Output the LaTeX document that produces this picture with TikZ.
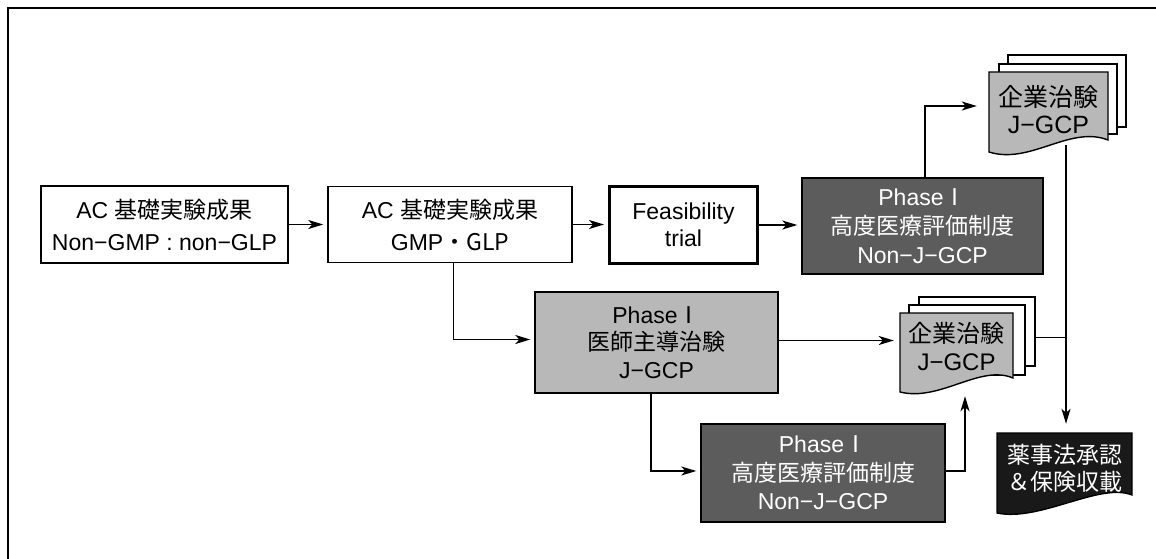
\documentclass[tikz,border=0pt]{standalone}
\usepackage{fontspec}
\setmainfont{Liberation Sans}
\newfontfamily\jp{Noto Sans CJK JP}
\usetikzlibrary{arrows.meta,calc}
\definecolor{darkfill}{gray}{0.36}
\definecolor{lightfill}{gray}{0.72}
\definecolor{blackfill}{gray}{0.1}
\newcommand\phaseone{Phase\jp{Ⅰ}}
\begin{document}
\begin{tikzpicture}[x=1pt,y=-1pt,
  every node/.style={font=\fontsize{23}{29}\selectfont, align=center, inner sep=0pt},
  plainbox/.style={draw, line width=1.5pt, fill=white},
  feasbox/.style={draw, line width=3pt, fill=white},
  darkbox/.style={draw, line width=1.4pt, fill=darkfill, text=white},
  lightbox/.style={draw, line width=1.4pt, fill=lightfill},
  docpage/.style={draw, line width=1.3pt, fill=white},
  docfront/.style={draw, line width=1.4pt, fill=lightfill},
  docblack/.style={draw, line width=1.4pt, fill=blackfill},
  conn/.style={line width=1.5pt, -{Stealth[length=15pt,width=9pt,inset=4pt]}, shorten >=4pt},
  link/.style={line width=1.5pt},
]
\useasboundingbox (0,0) rectangle (1156,559);
\draw[line width=1.5pt] (8,559) -- (8,8) -- (1156,8);

% main boxes
\node[plainbox, minimum width=247pt, minimum height=77pt, font=\fontsize{23}{32}\selectfont] (b1) at (164.5,224.5)
  {AC \jp{基礎実験成果}\\Non−GMP : non−GLP};
\node[plainbox, minimum width=244pt, minimum height=76pt, font=\fontsize{23}{32}\selectfont] (b2) at (450,224.5)
  {AC \jp{基礎実験成果}\\GMP\jp{・}GLP};
\node[feasbox, minimum width=148pt, minimum height=77pt, font=\fontsize{23}{27}\selectfont] (b3) at (683.5,225)
  {Feasibility\\trial};
\node[darkbox, minimum width=241pt, minimum height=96pt] (b4) at (922.5,226)
  {\phaseone\\\jp{高度医療評価制度}\\Non−J−GCP};
\node[lightbox, minimum width=243pt, minimum height=101pt, font=\fontsize{23}{27.5}\selectfont] (b5) at (656.5,342.5)
  {\phaseone\\\jp{医師主導治験}\\J−GCP};
\node[darkbox, minimum width=244pt, minimum height=98pt, font=\fontsize{23}{28.5}\selectfont] (b6) at (823,473)
  {\phaseone\\\jp{高度医療評価制度}\\Non−J−GCP};

% document stack 1
\node[docpage, minimum width=118pt, minimum height=72pt] (s1c) at (1067,91) {};
\node[docpage, minimum width=118pt, minimum height=70pt] (s1b) at (1058,99) {};
\filldraw[docfront] (989,72) -- (1108,72) -- (1108,140) .. controls (1070,125) and (1030,165) .. (989,152) -- cycle;
\node[minimum width=119pt, minimum height=80pt, font=\fontsize{25}{27}\selectfont] (s1) at (1048.5,110)
  {\jp{企業治験}\\J−GCP};

% document stack 2
\node[docpage, minimum width=116pt, minimum height=69pt] (s2c) at (977,331.5) {};
\node[docpage, minimum width=116pt, minimum height=70pt] (s2b) at (967,340) {};
\filldraw[docfront] (900,313) -- (1013,313) -- (1013,378) .. controls (980,364) and (940,402) .. (900,392) -- cycle;
\node[minimum width=113pt, minimum height=72pt, font=\fontsize{24}{28}\selectfont] (s2) at (956.5,346)
  {\jp{企業治験}\\J−GCP};

% final box
\filldraw[docblack] (997,433) -- (1132,433) -- (1132,495) .. controls (1100,482) and (1040,522) .. (997,513) -- cycle;
\node[minimum width=135pt, minimum height=80pt, text=white, font=\fontsize{23}{27}\selectfont] (b7) at (1064.5,468)
  {\jp{薬事法承認}\\\jp{＆保険収載}};

% connectors
\draw[conn] (b1.east) -- (b1.east -| b2.west);
\draw[conn] (b2.east) -- (b2.east -| b3.west);
\draw[conn] (b3.east) -- (b3.east -| b4.west);
\draw[conn, shorten >=12pt] ([xshift=2.5pt]b4.north) |- ([yshift=4pt]s1.west);
\draw[conn] ([xshift=3.5pt]b2.south) |- ([yshift=3pt]b5.west);
\draw[conn, shorten >=6pt] ([yshift=2pt]b5.east) -- ([yshift=2pt]b5.east -| s2.west);
\draw[conn] ([xshift=-5.5pt]b5.south) |- ([yshift=2pt]b6.west);
\draw[conn, shorten >=14pt] ([yshift=2pt]b6.east) -| ([xshift=8.5pt]s2.south);
\coordinate (trunk) at ([xshift=17.5pt,yshift=5pt]s1.south);
\draw[conn] (trunk) -- (trunk |- b7.north);
\draw[link] ([yshift=-6pt]s2c.east) -- ([yshift=-6pt]s2c.east -| trunk);
\end{tikzpicture}
\end{document}
